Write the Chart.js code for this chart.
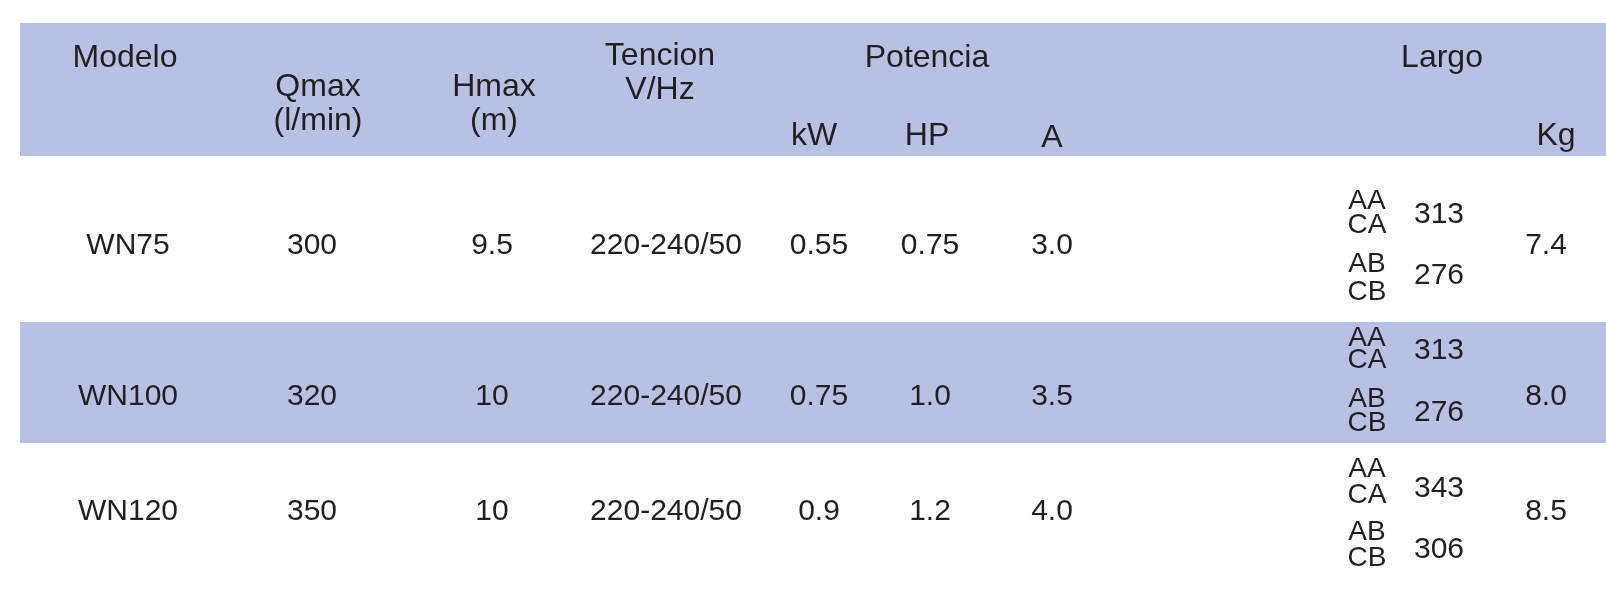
<!DOCTYPE html>
<html>
<head>
<meta charset="utf-8">
<script src="https://cdn.jsdelivr.net/npm/chart.js@4/dist/chart.umd.min.js"></script>
<style>
body { margin: 0; background: #fff; }
</style>
</head>
<body>
<canvas id="tableChart" width="1606" height="598"></canvas>
<script>
// table values
const models = ["WN75", "WN100", "WN120"];
const qmax = ["300", "320", "350"];
const hmax = ["9.5", "10", "10"];
const tension = ["220-240/50", "220-240/50", "220-240/50"];
const kw = ["0.55", "0.75", "0.9"];
const hp = ["0.75", "1.0", "1.2"];
const amps = ["3.0", "3.5", "4.0"];
const largoA = ["313", "313", "343"];
const largoB = ["276", "276", "306"];
const weight = ["7.4", "8.0", "8.5"];

// layout (pixel units on the chart's own scales)
const colX = { model: 128, q: 312, h: 492, v: 666, kw: 819, hp: 930, a: 1052, code: 1367, largo: 1439, kg: 1546 };
const rowY = [246, 397, 512];
const subY = [[201, 225, 215, 264, 292, 276], [338, 360, 351, 399, 423, 413], [469, 495, 489, 532, 558, 550]];
const bands = [[20, 23, 1606, 156], [20, 322, 1606, 443]];
const headers = [
	["Modelo", 125, 58], ["Qmax", 318, 87], ["(l/min)", 318, 121], ["Hmax", 494, 87], ["(m)", 494, 121],
	["Tencion", 660, 56], ["V/Hz", 660, 90], ["Potencia", 927, 58], ["kW", 814, 136], ["HP", 927, 136],
	["A", 1052, 138], ["Largo", 1442, 58], ["Kg", 1556, 136]
];

let cells = [];
headers.forEach(h => cells.push({ x: h[1], y: h[2], t: h[0], f: 32 }));
for (let i = 0; i < models.length; i++) {
	let y = rowY[i];
	cells.push({ x: colX.model, y: y, t: models[i], f: 30 });
	cells.push({ x: colX.q, y: y, t: qmax[i], f: 30 });
	cells.push({ x: colX.h, y: y, t: hmax[i], f: 30 });
	cells.push({ x: colX.v, y: y, t: tension[i], f: 30 });
	cells.push({ x: colX.kw, y: y, t: kw[i], f: 30 });
	cells.push({ x: colX.hp, y: y, t: hp[i], f: 30 });
	cells.push({ x: colX.a, y: y, t: amps[i], f: 30 });
	cells.push({ x: colX.kg, y: y, t: weight[i], f: 30 });
	let s = subY[i];
	cells.push({ x: colX.code, y: s[0], t: "AA", f: 28 });
	cells.push({ x: colX.code, y: s[1], t: "CA", f: 28 });
	cells.push({ x: colX.largo, y: s[2], t: largoA[i], f: 30 });
	cells.push({ x: colX.code, y: s[3], t: "AB", f: 28 });
	cells.push({ x: colX.code, y: s[4], t: "CB", f: 28 });
	cells.push({ x: colX.largo, y: s[5], t: largoB[i], f: 30 });
}

const tablePlugin = {
	id: "tablePlugin",
	beforeDatasetsDraw(chart) {
		let ctx = chart.ctx, xs = chart.scales.x, ys = chart.scales.y;
		ctx.save();
		ctx.fillStyle = "#b8c1e4";
		bands.forEach(b => {
			let x0 = xs.getPixelForValue(b[0]), y0 = ys.getPixelForValue(b[1]);
			ctx.fillRect(x0, y0, xs.getPixelForValue(b[2]) - x0, ys.getPixelForValue(b[3]) - y0);
		});
		ctx.restore();
	},
	afterDatasetsDraw(chart) {
		let ctx = chart.ctx;
		let meta = chart.getDatasetMeta(0);
		ctx.save();
		ctx.fillStyle = "#231f20";
		ctx.textAlign = "center";
		ctx.textBaseline = "middle";
		meta.data.forEach((pt, i) => {
			let c = cells[i];
			ctx.font = c.f + "px \"Liberation Sans\", Arimo, Helvetica, Arial, \"DejaVu Sans\", sans-serif";
			ctx.fillText(c.t, pt.x, pt.y);
		});
		ctx.restore();
	}
};

new Chart(document.getElementById("tableChart"), {
	type: "scatter",
	data: { datasets: [{ data: cells.map(c => ({ x: c.x, y: c.y })), pointRadius: 0 }] },
	options: {
		responsive: false,
		animation: false,
		devicePixelRatio: 1,
		layout: { padding: 0 },
		plugins: { legend: { display: false }, tooltip: { enabled: false } },
		scales: {
			x: { type: "linear", min: 0, max: 1606, display: false },
			y: { type: "linear", min: 0, max: 598, reverse: true, display: false }
		}
	},
	plugins: [tablePlugin]
});
</script>
</body>
</html>
